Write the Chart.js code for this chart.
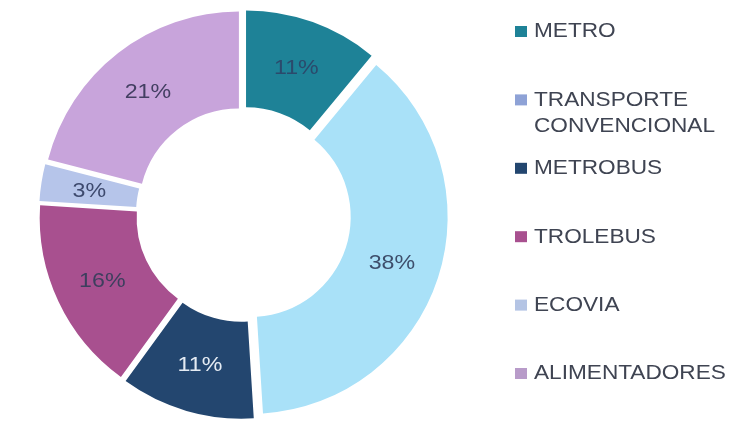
<!DOCTYPE html>
<html>
<head>
<meta charset="utf-8">
<script src="https://cdn.jsdelivr.net/npm/chart.js@4.4.1/dist/chart.umd.min.js"></script>
<style>
  html, body { margin: 0; padding: 0; background: #ffffff; }
  #wrap { width: 750px; height: 423px; }
</style>
</head>
<body>
<div id="wrap"><canvas id="modal" width="750" height="423"></canvas></div>
<script>
// Reparto de viajes por modo de transporte
const categories = ['METRO', ['TRANSPORTE', 'CONVENCIONAL'], 'METROBUS', 'TROLEBUS', 'ECOVIA', 'ALIMENTADORES'];
const shares = [11, 38, 11, 16, 3, 21];
const sliceColors = ['#1e8297', '#a9e1f8', '#23466f', '#a8508f', '#b6c5ea', '#c8a4db'];
const swatchColors = ['#1e8297', '#8ea2d6', '#23466f', '#a8508f', '#b4c4e4', '#b89bc9'];
const labelColors = ['#2b4a6c', '#3e4f6c', '#e4ebf3', '#3d3f5e', '#3e4a6e', '#433f62'];

const FONT = '"Liberation Sans", Arial, sans-serif';
const STRETCH = 1.16;
// every slice is pulled out along its bisector by this many px
const EXPLODE = 7.5;

function midAngle(arc) {
  return (arc.startAngle + arc.endAngle) / 2;
}

// draws text widened horizontally, like the original export
function wideText(ctx, text, x, y, align) {
  ctx.save();
  ctx.translate(x, y);
  ctx.scale(STRETCH, 1);
  ctx.textAlign = align;
  ctx.fillText(text, 0, 0);
  ctx.restore();
}

// exploded slices: shift each arc before it paints (ArcElement's own offset also trims the angles)
const explodeSlices = {
  id: 'explodeSlices',
  beforeDatasetDraw(chart, args) {
    const { ctx } = chart;
    args.meta.data.forEach(arc => {
      const mid = midAngle(arc);
      ctx.save();
      ctx.translate(Math.cos(mid) * EXPLODE, Math.sin(mid) * EXPLODE);
      arc.draw(ctx, chart.chartArea);
      ctx.restore();
    });
    return false;
  }
};

const sliceLabels = {
  id: 'sliceLabels',
  afterDatasetsDraw(chart) {
    const { ctx } = chart;
    const meta = chart.getDatasetMeta(0);
    ctx.save();
    ctx.font = '20px ' + FONT;
    ctx.textBaseline = 'middle';
    meta.data.forEach((arc, i) => {
      const mid = midAngle(arc);
      const r = EXPLODE + (arc.innerRadius + arc.outerRadius) / 2;
      ctx.fillStyle = labelColors[i];
      wideText(ctx, shares[i] + '%', arc.x + Math.cos(mid) * r, arc.y + Math.sin(mid) * r + 1, 'center');
    });
    ctx.restore();
  }
};

const sideLegend = {
  id: 'sideLegend',
  afterDraw(chart) {
    const { ctx } = chart;
    const top = 31, step = 68.4, boxX = 515, textX = 534;
    ctx.save();
    ctx.font = '19.5px ' + FONT;
    ctx.textBaseline = 'middle';
    chart.data.labels.forEach((label, i) => {
      const y = top + i * step;
      ctx.fillStyle = swatchColors[i];
      ctx.fillRect(boxX, y - 5, 12, 11);
      ctx.fillStyle = '#3f4452';
      const lines = Array.isArray(label) ? label : [label];
      lines.forEach((line, j) => wideText(ctx, line, textX, y + 1 + j * 26, 'left'));
    });
    ctx.restore();
  }
};

new Chart(document.getElementById('modal'), {
  type: 'doughnut',
  data: {
    labels: categories,
    datasets: [{
      data: shares,
      backgroundColor: sliceColors,
      borderWidth: 0
    }]
  },
  options: {
    responsive: false,
    animation: false,
    radius: 197,
    cutout: '50.8%',
    layout: { padding: { top: 6, right: 263 } },
    plugins: {
      legend: { display: false },
      tooltip: { enabled: false }
    }
  },
  plugins: [explodeSlices, sliceLabels, sideLegend]
});
</script>
</body>
</html>
